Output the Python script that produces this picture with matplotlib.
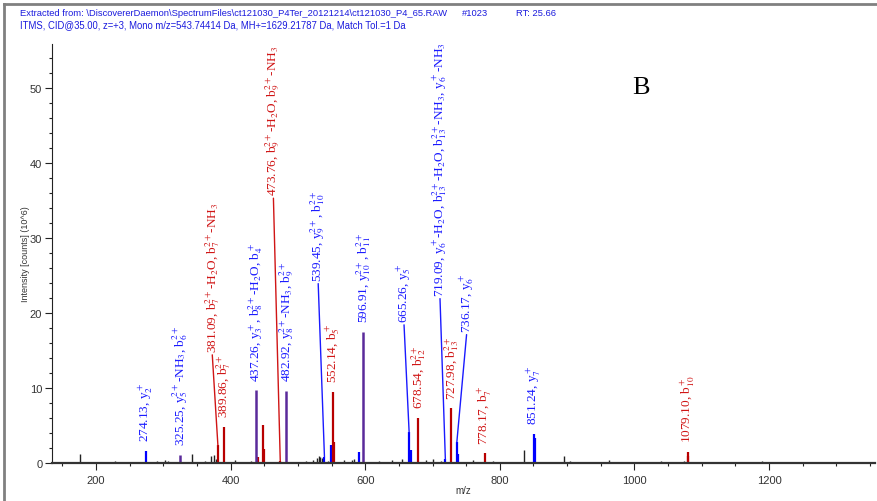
import matplotlib
matplotlib.use("Agg")
from matplotlib import pyplot as plt
from matplotlib.lines import Line2D
from matplotlib.ticker import MultipleLocator

plt.rcParams["font.family"] = ["Liberation Sans", "DejaVu Sans"]
plt.rcParams["mathtext.fontset"] = "stix"

# peak lists (m/z, intensity x10^6)
blue_mz = [274.13, 539.45, 549.0, 590.5, 665.26, 667.3, 719.09, 736.17, 737.6, 851.24, 852.4]
blue_int = [1.6, 0.8, 2.4, 1.5, 4.1, 1.8, 0.5, 2.8, 1.2, 3.9, 3.3]

red_mz = [381.09, 389.86, 441.0, 448.5, 449.3, 473.76, 552.14, 552.9, 678.54, 727.98, 778.17, 1079.10, 1080.3]
red_int = [2.4, 4.8, 0.8, 5.1, 1.9, 0.3, 9.5, 2.8, 6.0, 7.3, 1.3, 1.5, 1.0]

both_mz = [325.25, 437.26, 482.92, 596.91]
both_int = [1.1, 9.7, 9.6, 17.5]

noise_mz = [176, 228, 252, 290, 303, 307, 343, 362, 371, 375, 378, 406, 418, 430, 458, 500,
            512, 522, 528, 531, 533, 536, 545, 568, 580, 584, 620, 640, 655, 690, 700, 712,
            760, 790, 836, 896, 905, 962, 985, 1040, 1060, 1073, 1180, 1190]
noise_int = [1.2, 0.3, 0.2, 0.3, 0.4, 0.3, 1.2, 0.3, 1.0, 1.1, 0.6, 0.4, 0.2, 0.3, 0.2, 0.2,
             0.3, 0.4, 0.7, 0.9, 0.8, 0.7, 0.3, 0.4, 0.4, 0.5, 0.3, 0.4, 0.5, 0.4, 0.6, 0.3,
             0.4, 0.3, 1.8, 1.0, 0.3, 0.4, 0.2, 0.3, 0.2, 0.3, 0.2, 0.3]

# annotations: text, colour, peak m/z, peak intensity
label_text = [
    "274.13, y$_2^+$",
    "325.25, y$_5^{2+}$-NH$_3$, b$_6^{2+}$",
    "381.09, b$_7^{2+}$-H$_2$O, b$_7^{2+}$-NH$_3$",
    "389.86, b$_7^{2+}$",
    "437.26, y$_3^+$, b$_8^{2+}$-H$_2$O, b$_4^+$",
    "473.76, b$_9^{2+}$-H$_2$O, b$_9^{2+}$-NH$_3$",
    "482.92, y$_8^{2+}$-NH$_3$, b$_9^{2+}$",
    "539.45, y$_9^{2+}$, b$_{10}^{2+}$",
    "552.14, b$_5^+$",
    "596.91, y$_{10}^{2+}$, b$_{11}^{2+}$",
    "665.26, y$_5^+$",
    "678.54, b$_{12}^{2+}$",
    "719.09, y$_6^+$-H$_2$O, b$_{13}^{2+}$-H$_2$O, b$_{13}^{2+}$-NH$_3$, y$_6^+$-NH$_3$",
    "727.98, b$_{13}^{2+}$",
    "736.17, y$_6^+$",
    "778.17, b$_7^+$",
    "851.24, y$_7^+$",
    "1079.10, b$_{10}^+$",
]
label_color = ["b", "b", "r", "r", "b", "r", "b", "b", "r", "b", "b", "r", "b", "r", "b", "r", "b", "r"]
label_mz = [274.13, 325.25, 381.09, 389.86, 437.26, 473.76, 482.92, 539.45, 552.14, 596.91,
            665.26, 678.54, 719.09, 727.98, 736.17, 778.17, 851.24, 1079.10]
label_int = [1.6, 1.1, 2.4, 4.8, 9.7, 0.3, 9.6, 0.8, 9.5, 17.5,
             4.1, 6.0, 0.5, 7.3, 2.8, 1.3, 3.9, 1.5]

# labels moved away from their peaks (index -> text position m/z, intensity)
moved = {2: (372.5, 14.8), 5: (463.5, 35.7), 7: (530.0, 24.3),
         10: (657.5, 18.8), 12: (711.0, 22.3), 14: (751.0, 17.5)}

colors = {"b": "#1a1aff", "r": "#d01515"}

fig = plt.figure(figsize=(8.78, 5.02), dpi=100)
ax = fig.add_axes([52 / 878, 38 / 502, 823 / 878, 419 / 502])

ax.vlines(noise_mz, 0, noise_int, color="#222222", lw=1.0)
ax.vlines(blue_mz, 0, blue_int, color="#0000ff", lw=1.6)
ax.vlines(red_mz, 0, red_int, color="#b80000", lw=1.6)
ax.vlines(both_mz, 0, both_int, color="#5a2a9a", lw=1.8)

for i, txt in enumerate(label_text):
    c = colors[label_color[i]]
    if i in moved:
        ax.annotate(txt, (label_mz[i], label_int[i]), xytext=moved[i], textcoords="data",
                    rotation=90, ha="center", va="bottom", color=c, fontsize=9.5,
                    family="Liberation Serif",
                    arrowprops=dict(arrowstyle="-", color=c, lw=1.0, shrinkA=0, shrinkB=0,
                                    relpos=(0.5, 0.0)))
    else:
        ax.annotate(txt, (label_mz[i], label_int[i]), xytext=(0, 7), textcoords="offset points",
                    rotation=90, ha="center", va="bottom", color=c, fontsize=9.5,
                    family="Liberation Serif")

ax.set_xlim(134.6, 1357.5)
ax.set_ylim(0, 55.9)
ax.xaxis.set_major_locator(MultipleLocator(200))
ax.xaxis.set_minor_locator(MultipleLocator(50))
ax.yaxis.set_major_locator(MultipleLocator(10))
ax.yaxis.set_minor_locator(MultipleLocator(2))
for s in ["top", "right"]:
    ax.spines[s].set_visible(False)
ax.spines["left"].set_color("#222222")
ax.spines["bottom"].set_color("#333333")
ax.spines["bottom"].set_linewidth(1.6)
ax.tick_params(which="major", length=5, width=0.8, colors="#222222", labelsize=8, labelcolor="#333333")
ax.tick_params(which="minor", length=2.5, width=0.8, colors="#222222")
ax.tick_params(axis="y", pad=2)

ax.set_xlabel("m/z", fontsize=7, color="#333333", labelpad=0)
ax.set_ylabel("Intensity [counts] (10^6)", fontsize=6.5, color="#333333", labelpad=0)

ax.text(0.716, 0.897, "B", transform=ax.transAxes, fontsize=19, family="Liberation Serif",
        ha="center", va="center")

head_color = "#1a1add"
fig.text(20 / 878, 1 - 13 / 502, r"Extracted from: \DiscovererDaemon\SpectrumFiles\ct121030_P4Ter_20121214\ct121030_P4_65.RAW",
         color=head_color, fontsize=6.75, va="center")
fig.text(462 / 878, 1 - 13 / 502, "#1023", color=head_color, fontsize=6.75, va="center")
fig.text(516 / 878, 1 - 13 / 502, "RT: 25.66", color=head_color, fontsize=6.75, va="center")
fig.text(20 / 878, 1 - 25 / 502, "ITMS, CID@35.00, z=+3, Mono m/z=543.74414 Da, MH+=1629.21787 Da, Match Tol.=1 Da",
         color=head_color, fontsize=6.85, va="center")

fig.add_artist(Line2D([4 / 878, 4 / 878], [0, 1 - 5 / 502], transform=fig.transFigure, color="#808080", lw=2))
fig.add_artist(Line2D([4 / 878, 1], [1 - 5 / 502, 1 - 5 / 502], transform=fig.transFigure, color="#808080", lw=2))

fig.savefig("out.png", dpi=100)
